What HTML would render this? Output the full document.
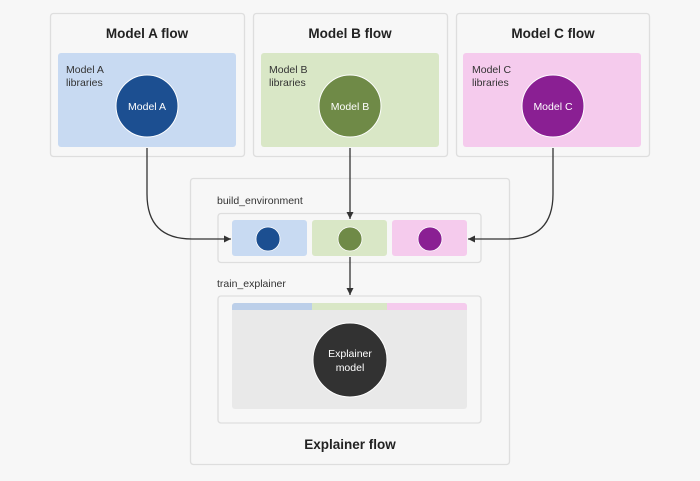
<!DOCTYPE html>
<html><head><meta charset="utf-8"><style>
html,body{margin:0;padding:0;background:#f7f7f7;}
svg{display:block;font-family:"Liberation Sans",sans-serif;}
</style></head><body>
<svg width="700" height="481" viewBox="0 0 700 481" xmlns="http://www.w3.org/2000/svg">
<defs><marker id="ar" markerWidth="8" markerHeight="8" refX="7" refY="4" orient="auto" markerUnits="userSpaceOnUse"><path d="M0,0.5 L7,4 L0,7.5 z" fill="#333"/></marker></defs>
<rect width="700" height="481" fill="#f7f7f7"/>
<g stroke="#dedede" stroke-width="1.3" fill="#f7f7f7">
<rect x="50.5" y="13.5" width="194" height="143" rx="3"/>
<rect x="253.5" y="13.5" width="194" height="143" rx="3"/>
<rect x="456.5" y="13.5" width="193" height="143" rx="3"/>
<rect x="190.5" y="178.5" width="319" height="286" rx="3"/>
<rect x="218" y="213.5" width="263" height="49" rx="3"/>
<rect x="218" y="296" width="263" height="127" rx="3"/>
</g>
<g font-size="13.5" font-weight="bold" fill="#222" text-anchor="middle">
<text x="147" y="38">Model A flow</text>
<text x="350" y="38">Model B flow</text>
<text x="553" y="38">Model C flow</text>
<text x="350" y="449">Explainer flow</text>
</g>
<rect x="58" y="53" width="178" height="94" rx="3" fill="#c8daf2"/>
<rect x="261" y="53" width="178" height="94" rx="3" fill="#d9e7c6"/>
<rect x="463" y="53" width="178" height="94" rx="3" fill="#f5cbed"/>
<g font-size="10.5" fill="#333">
<text x="66" y="73">Model A</text><text x="66" y="86">libraries</text>
<text x="269" y="73">Model B</text><text x="269" y="86">libraries</text>
<text x="472" y="73">Model C</text><text x="472" y="86">libraries</text>
<text x="217" y="204">build_environment</text>
<text x="217" y="287">train_explainer</text>
</g>
<g stroke="#fff" stroke-width="1">
<circle cx="147" cy="106" r="31" fill="#1c4f91"/>
<circle cx="350" cy="106" r="31" fill="#6f8a47"/>
<circle cx="553" cy="106" r="31" fill="#8a1f93"/>
</g>
<g font-size="10.5" fill="#fff" text-anchor="middle">
<text x="147" y="110">Model A</text>
<text x="350" y="110">Model B</text>
<text x="553" y="110">Model C</text>
</g>
<rect x="232" y="220" width="75" height="36" rx="3" fill="#c8daf2"/>
<rect x="312" y="220" width="75" height="36" rx="3" fill="#d9e7c6"/>
<rect x="392" y="220" width="75" height="36" rx="3" fill="#f5cbed"/>
<g stroke="#fff" stroke-width="0.8">
<circle cx="268" cy="239" r="12" fill="#1c4f91"/>
<circle cx="350" cy="239" r="12" fill="#6f8a47"/>
<circle cx="430" cy="239" r="12" fill="#8a1f93"/>
</g>
<rect x="232" y="303" width="235" height="106" rx="3" fill="#e9e9e9"/>
<path d="M232,306 a3,3 0 0 1 3,-3 H312 V310 H232z" fill="#bccfe9"/>
<rect x="312" y="303" width="75" height="7" fill="#d9e7c6"/>
<path d="M387,303 H464 a3,3 0 0 1 3,3 V310 H387z" fill="#f5cbed"/>
<circle cx="350" cy="360" r="37" fill="#323232" stroke="#fff" stroke-width="1"/>
<g font-size="10.5" fill="#fff" text-anchor="middle">
<text x="350" y="357">Explainer</text><text x="350" y="371">model</text>
</g>
<g stroke="#333" stroke-width="1.3" fill="none" marker-end="url(#ar)">
<path d="M147,148 V194 Q147,239 192,239 H231"/>
<path d="M350,148 V219"/>
<path d="M553,148 V194 Q553,239 508,239 H468"/>
<path d="M350,257 V295"/>
</g>
</svg>
</body></html>
